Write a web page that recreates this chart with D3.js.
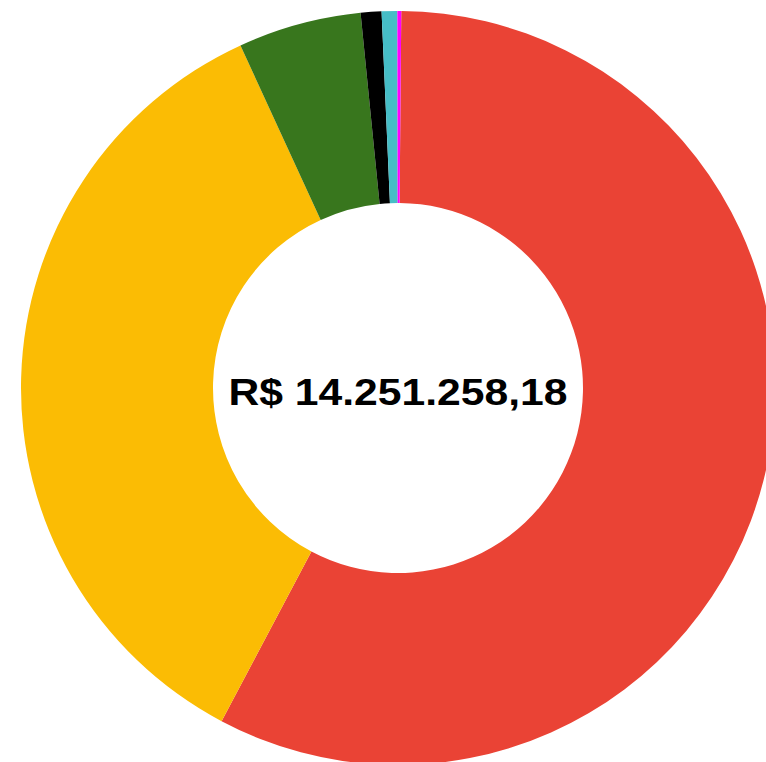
<!DOCTYPE html>
<html>
<head>
<meta charset="utf-8">
<script src="https://cdn.jsdelivr.net/npm/d3@7"></script>
<style>
  html, body { margin: 0; padding: 0; background: #ffffff; }
  svg { display: block; }
</style>
</head>
<body>
<svg id="chart" width="766" height="762"></svg>
<script>
// Data
const categories = ["A", "B", "C", "D", "E", "F"];
const values = [8210300, 5043400, 752100, 126700, 95000, 23750];
const colors = ["#EA4335", "#FBBC04", "#38761D", "#000000", "#46BDC6", "#FF00FF"];
const totalLabel = "R$ 14.251.258,18";

const svg = d3.select("#chart");
const cx = 398, cy = 388;
const outerR = 377, innerR = 185;
const offset = 0.5 * Math.PI / 180;

const data = categories.map((c, i) => ({ cat: c, value: values[i], color: colors[i] }));

const pie = d3.pie().value(d => d.value).sort(null)
  .startAngle(offset).endAngle(2 * Math.PI + offset);
const arc = d3.arc().innerRadius(innerR).outerRadius(outerR);

const g = svg.append("g").attr("transform", `translate(${cx},${cy})`);

g.selectAll("path")
  .data(pie(data))
  .join("path")
  .attr("d", arc)
  .attr("fill", d => d.data.color);

const label = g.append("text")
  .attr("x", 0)
  .attr("y", 17)
  .attr("text-anchor", "middle")
  .attr("font-family", "'Liberation Sans', Arial, sans-serif")
  .attr("font-weight", "bold")
  .attr("font-size", 37)
  .attr("fill", "#000")
  .text(totalLabel);

// stretch horizontally to the reference's label width
const w = label.node().getComputedTextLength();
label.attr("transform", `scale(${339 / w},1)`);
</script>
</body>
</html>
